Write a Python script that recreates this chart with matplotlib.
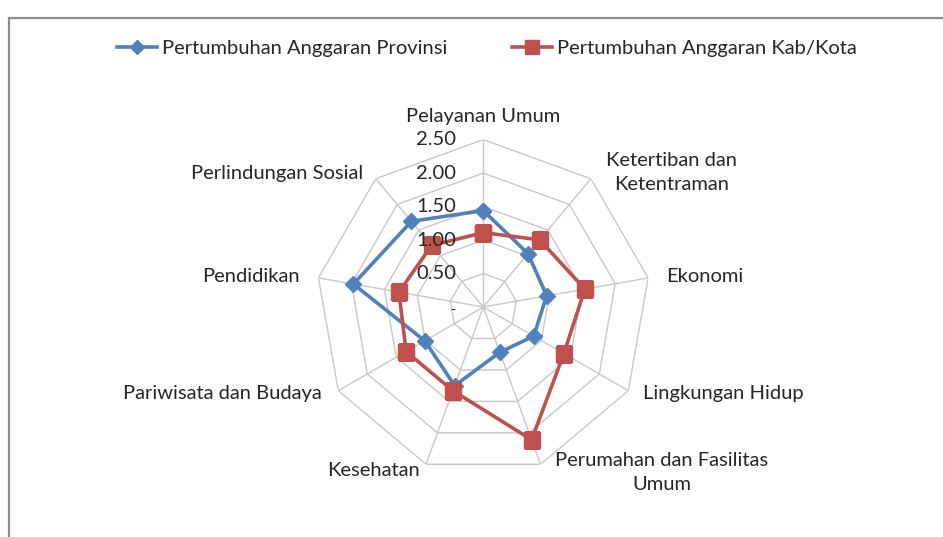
import numpy as np
import matplotlib.pyplot as plt
from matplotlib.lines import Line2D
from matplotlib.patches import Rectangle

categories = ["Pelayanan Umum", "Ketertiban dan\nKetentraman", "Ekonomi",
              "Lingkungan Hidup", "Perumahan dan Fasilitas\nUmum", "Kesehatan",
              "Pariwisata dan Budaya", "Pendidikan", "Perlindungan Sosial"]
provinsi = [1.44, 1.04, 0.96, 0.87, 0.72, 1.25, 1.01, 1.97, 1.67]
kabkota = [1.11, 1.31, 1.54, 1.39, 2.11, 1.33, 1.33, 1.28, 1.20]
rticks = [0.5, 1.0, 1.5, 2.0, 2.5]
rlabels = ["0.50", "1.00", "1.50", "2.00", "2.50"]

plt.rcParams['font.family'] = ['Lato', 'DejaVu Sans']
BLUE = "#4F81BD"
RED = "#C0504D"
GRID = "#C8C8C8"
TXT = "#262626"
FS = 14.5

W, H = 943, 537
fig = plt.figure(figsize=(W / 100, H / 100), dpi=100)

# outer chart border (right/bottom cut off)
fig.patches.append(Rectangle((9 / W, -0.05), 1.1, 1 - 18 / H + 0.05,
                             transform=fig.transFigure, fill=False,
                             edgecolor="#8C8C8C", linewidth=1.6))

cx, cy, R = 483.3, 307.0, 167.4
ax = fig.add_axes([(cx - R) / W, 1 - (cy + R) / H, 2 * R / W, 2 * R / H],
                  projection="polar")
ax.set_theta_offset(np.pi / 2)
ax.set_theta_direction(-1)
ax.set_ylim(0, 2.5)
ax.axis("off")

n = len(categories)
theta = np.arange(n) * 2 * np.pi / n
tc = np.append(theta, theta[0])

# polygon grid
for r in rticks:
    ax.plot(tc, [r] * (n + 1), color=GRID, lw=1.0, zorder=1)
for t in theta:
    ax.plot([t, t], [0, 2.5], color=GRID, lw=1.0, zorder=1)

# radial tick labels, right aligned left of the vertical axis
for r, lab in zip(rticks, rlabels):
    y = cy - r / 2.5 * R
    fig.text(456 / W, 1 - y / H, lab, ha="right", va="center", fontsize=FS,
             color=TXT, zorder=2)
fig.text(455 / W, 1 - 310 / H, "-", ha="right", va="center", fontsize=10, color=TXT)

ax.plot(tc, np.append(provinsi, provinsi[0]), color=BLUE, lw=2.6, marker="D",
        markersize=8, zorder=3)
ax.plot(tc, np.append(kabkota, kabkota[0]), color=RED, lw=2.6, marker="s",
        markersize=11, zorder=4)

# category labels (pixel positions)
label_pos = [
    (483, 117, "center", "center"),
    (672, 172, "center", "center"),
    (666, 277, "left", "center"),
    (643, 393, "left", "center"),
    (662, 473, "center", "center"),
    (420, 470, "right", "center"),
    (322, 393, "right", "center"),
    (300, 277, "right", "center"),
    (363, 173, "right", "center"),
]
for lab, (x, y, ha, va) in zip(categories, label_pos):
    fig.text(x / W, 1 - y / H, lab, ha=ha, va=va, fontsize=FS, color=TXT,
             linespacing=1.5, multialignment="center")

handles = [Line2D([], [], color=BLUE, lw=2.6, marker="D", markersize=7),
           Line2D([], [], color=RED, lw=2.6, marker="s", markersize=10)]
fig.legend(handles, ["Pertumbuhan Anggaran Provinsi", "Pertumbuhan Anggaran Kab/Kota"],
           loc="center", bbox_to_anchor=(487 / W, 1 - 48 / H), ncol=2, frameon=False,
           fontsize=FS, handlelength=2.0, handletextpad=0.25, columnspacing=3.2,
           labelcolor=TXT)

fig.savefig("out.png", dpi=100)
